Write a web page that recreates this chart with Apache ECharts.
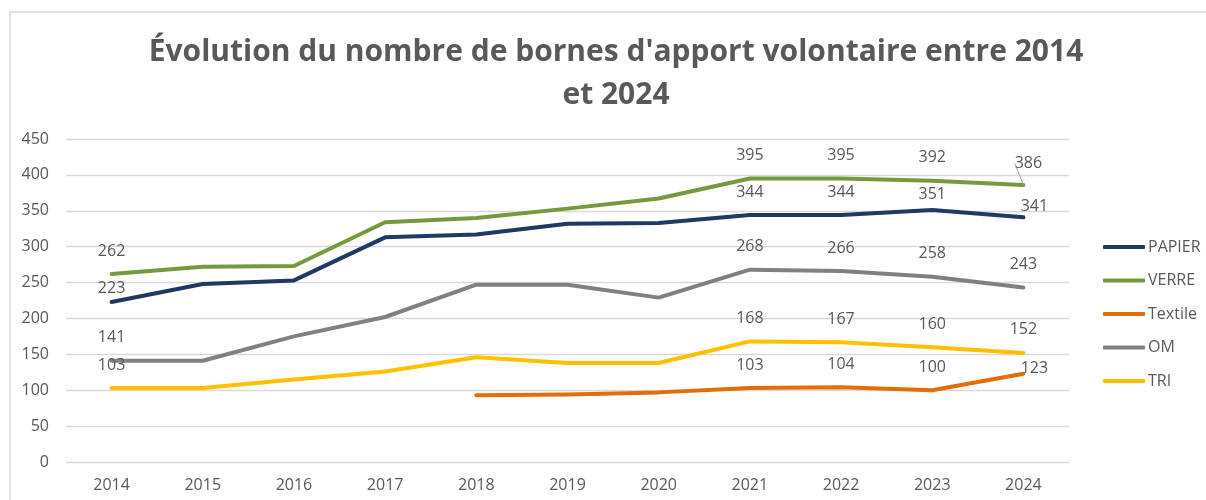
<!DOCTYPE html>
<html>
<head>
<meta charset="utf-8">
<script src="https://cdn.jsdelivr.net/npm/echarts@6/dist/echarts.min.js"></script>
<style>html,body{margin:0;padding:0;background:#fff}#c{width:1206px;height:500px}</style>
</head>
<body>
<div id="c"></div>
<script>
const years = ['2014','2015','2016','2017','2018','2019','2020','2021','2022','2023','2024'];
const papier  = [223, 248, 253, 313, 317, 332, 333, 344, 344, 351, 341];
const verre   = [262, 272, 273, 334, 340, 353, 367, 395, 395, 392, 386];
const textile = [null, null, null, null, 93, 94, 97, 103, 104, 100, 123];
const om      = [141, 141, 175, 202, 247, 247, 229, 268, 266, 258, 243];
const tri     = [103, 103, 115, 126, 146, 138, 138, 168, 167, 160, 152];
const yTicks  = [0, 50, 100, 150, 200, 250, 300, 350, 400, 450];
const labelIdx = [0, 7, 8, 9, 10];

const FONT = 'Open Sans';
const TXT = '#595959';

// label position tweaks (styling only)
const tweaks = {
  PAPIER: {0: [0, 10], 9: [0, 7], 10: [11, 12]},
  Textile: {10: [11, 18]}
};
const guideLines = {VERRE: 10};

function build(name, vals) {
  return vals.map((v, i) => {
    if (v == null) return null;
    if (labelIdx.indexOf(i) < 0) return v;
    const off = (tweaks[name] && tweaks[name][i]) || [0, 0];
    return {value: v, label: {show: true, offset: off},
            labelLine: {show: guideLines[name] === i}};
  });
}

const seriesDefs = [
  {name: 'PAPIER', vals: papier, color: '#1f3864'},
  {name: 'VERRE', vals: verre, color: '#77993d'},
  {name: 'Textile', vals: textile, color: '#e46c0a'},
  {name: 'OM', vals: om, color: '#808080'},
  {name: 'TRI', vals: tri, color: '#ffc000'}
];

const chart = echarts.init(document.getElementById('c'));
chart.setOption({
  animation: false,
  textStyle: {fontFamily: FONT},
  title: {
    text: 'Évolution du nombre de bornes d\'apport volontaire entre 2014\net 2024',
    left: 611, top: 26, textAlign: 'center',
    textStyle: {fontFamily: FONT, fontWeight: 'bold', fontSize: 30, color: TXT, lineHeight: 43}
  },
  graphic: [{
    type: 'rect', shape: {x: 10, y: 12, width: 1400, height: 700},
    style: {fill: 'none', stroke: '#d9d9d9', lineWidth: 1.5}, silent: true
  }],
  legend: {
    orient: 'vertical', left: 1098, top: 234, itemWidth: 42, itemHeight: 4, itemGap: 17.5,
    icon: 'roundRect',
    textStyle: {fontFamily: FONT, fontSize: 16, color: TXT, padding: [0, 0, 0, -2]},
    data: seriesDefs.map(s => s.name)
  },
  grid: {left: 66, right: 137, top: 139, bottom: 38},
  xAxis: {
    type: 'category', data: years, boundaryGap: true,
    axisLine: {show: false}, axisTick: {show: false},
    axisLabel: {color: TXT, fontSize: 16, fontFamily: FONT, margin: 15}
  },
  yAxis: {
    type: 'value', min: yTicks[0], max: yTicks[yTicks.length - 1], interval: 50,
    axisLine: {show: false}, axisTick: {show: false},
    axisLabel: {color: TXT, fontSize: 16, fontFamily: FONT, margin: 17},
    splitLine: {lineStyle: {color: '#d9d9d9', width: 1.3}}
  },
  series: seriesDefs.map(s => {
    const o = {
      name: s.name, type: 'line', data: build(s.name, s.vals),
      showSymbol: true, symbol: 'circle', symbolSize: 0, connectNulls: false,
      lineStyle: {color: s.color, width: 4, cap: 'round', join: 'round'},
      itemStyle: {color: s.color},
      label: {show: false, position: 'top', distance: 15, color: TXT, fontSize: 16, fontFamily: FONT},
      emphasis: {disabled: true}
    };
    if (s.name === 'VERRE') {
      o.labelLayout = function (p) {
        if (p.dataIndex === guideLines.VERRE) return {dx: 5, dy: 1};
        return {};
      };
      o.labelLine = {show: false, lineStyle: {color: '#a6a6a6', width: 1}};
    }
    return o;
  })
});
</script>
</body>
</html>
